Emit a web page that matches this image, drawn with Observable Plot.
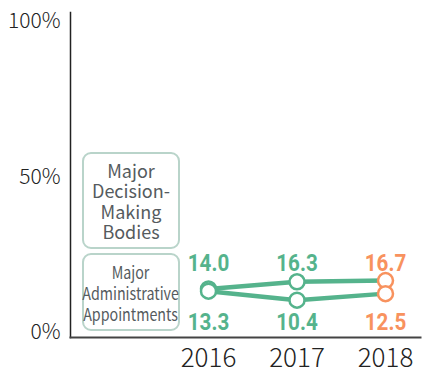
<!DOCTYPE html>
<html>
<head>
<meta charset="utf-8">
<script src="https://cdn.jsdelivr.net/npm/d3@7"></script>
<script src="https://cdn.jsdelivr.net/npm/@observablehq/plot@0.6"></script>
<style>
  html, body { margin: 0; padding: 0; background: #fff; }
  #chart { position: relative; width: 426px; height: 370px; }
  #chart svg { position: absolute; left: 0; top: 0; }
  .key {
    position: absolute;
    box-sizing: border-box;
    border: 2.5px solid #b9d4ca;
    border-radius: 9px;
    display: flex;
    align-items: center;
    justify-content: center;
    text-align: center;
    color: #555b5e;
    background: #fff;
    white-space: nowrap;
  }
  .key.k0 { left: 82px; top: 152px; width: 98px; height: 97px;
            font: 18px/20.5px "Noto Sans CJK KR", "Noto Sans", sans-serif; }
  .key.k1 { left: 82px; top: 253px; width: 98px; height: 78px;
            font: 17px/21px "Noto Sans CJK KR", "Noto Sans", sans-serif; }
  .key.k1 > div { transform: scaleX(0.84); }
</style>
</head>
<body>
<div id="chart"></div>
<script>
// Share of women, in percent
const years = [2016, 2017, 2018];
const decisionBodies = [14.0, 16.3, 16.7];
const adminAppointments = [13.3, 10.4, 12.5];
const seriesKeys = ["decision", "admin"];
const seriesLines = [
  ["Major", "Decision-", "Making", "Bodies"],
  ["Major", "Administrative", "Appointments"]
];
const yTicks = [0, 50, 100];

const green = "#55b38c";
const orange = "#f8925e";
const latestYear = d3.max(years);
const colorOf = (year) => (year === latestYear ? orange : green);

const rows = years.flatMap((year, i) => [
  {year, series: seriesKeys[0], value: decisionBodies[i]},
  {year, series: seriesKeys[1], value: adminAppointments[i]}
]);
const upper = rows.filter((d) => d.series === seriesKeys[0]);
const lower = rows.filter((d) => d.series === seriesKeys[1]);
// value labels sit in two aligned rows: above the highest and below the lowest point
const upperRow = d3.max(rows, (d) => d.value);
const lowerRow = d3.min(rows, (d) => d.value);

const labelFont = {
  fontFamily: "Roboto",
  fontWeight: "bold",
  fontSize: 24,
  textAnchor: "middle",
  className: "value-label"
};

const chart = Plot.plot({
  width: 426,
  height: 370,
  marginLeft: 70,
  marginRight: 6,
  marginTop: 12,
  marginBottom: 33,
  style: {fontFamily: "Noto Sans CJK KR, Noto Sans, sans-serif", color: "#222", background: "transparent"},
  x: {domain: [years[0], latestYear], insetLeft: 138, insetRight: 35},
  y: {domain: [0, 100], insetTop: 9, insetBottom: 5},
  marks: [
    Plot.axisY(yTicks, {
      tickSize: 0, tickPadding: 10, fontSize: 21, fontWeight: 300,
      tickFormat: (d) => d + "%", label: null
    }),
    Plot.axisX(years, {
      tickSize: 0, tickPadding: 11, fontSize: 26, fontWeight: 300,
      tickFormat: (d) => String(d), label: null
    }),
    Plot.frame({anchor: "left", stroke: "#222", strokeWidth: 1.5}),
    Plot.frame({anchor: "bottom", stroke: "#444", strokeWidth: 2}),
    Plot.line(rows, {x: "year", y: "value", z: "series", stroke: green, strokeWidth: 4.5}),
    Plot.dot(rows, {x: "year", y: "value", r: 7.5, fill: "white",
      stroke: (d) => colorOf(d.year), strokeWidth: 2.5}),
    Plot.text(upper, {x: "year", y: () => upperRow, dy: -17,
      text: (d) => d.value.toFixed(1), fill: (d) => colorOf(d.year), ...labelFont}),
    Plot.text(lower, {x: "year", y: () => lowerRow, dy: 22,
      text: (d) => d.value.toFixed(1), fill: (d) => colorOf(d.year), ...labelFont})
  ]
});

const root = document.getElementById("chart");
root.appendChild(chart);

// narrow the bold value labels around their own centre
d3.select(chart).selectAll(".value-label text").each(function () {
  const box = this.getBBox();
  const cx = box.x + box.width / 2;
  const prior = this.getAttribute("transform") || "";
  this.setAttribute("transform", `${prior} translate(${cx},0) scale(0.86,1) translate(${-cx},0)`);
});

seriesLines.forEach((lines, i) => {
  const box = document.createElement("div");
  box.className = "key k" + i;
  box.innerHTML = "<div>" + lines.join("<br>") + "</div>";
  root.appendChild(box);
});
</script>
</body>
</html>
